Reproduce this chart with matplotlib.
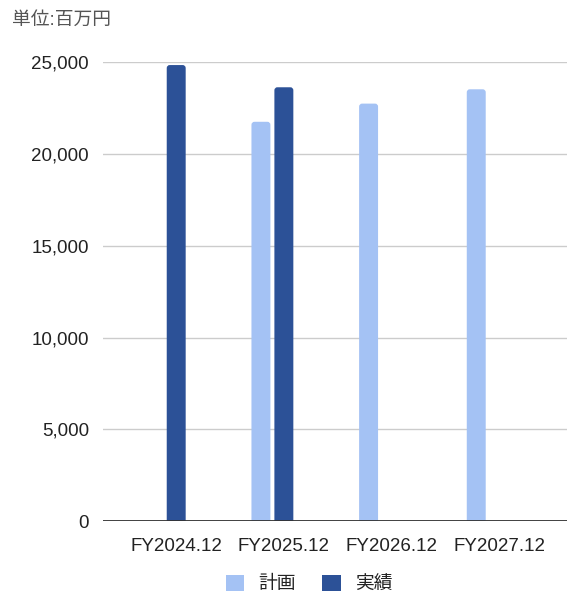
import numpy as np
import matplotlib
matplotlib.use('Agg')
import matplotlib.pyplot as plt
from matplotlib.patches import Patch, FancyBboxPatch
from matplotlib.ticker import FuncFormatter

plt.rcParams['font.family'] = ['Liberation Sans', 'Noto Sans CJK JP']

categories = ['FY2024.12', 'FY2025.12', 'FY2026.12', 'FY2027.12']
plan = [np.nan, 21760, 22750, 23530]     # 計画
actual = [24850, 23640, np.nan, np.nan]  # 実績

c_plan = '#a4c2f4'
c_actual = '#2c5197'

fig = plt.figure(figsize=(5.68, 5.95), dpi=100)
ax = fig.add_axes([103/568, 73.7/595, 464/568, 459/595])

x = np.arange(len(categories))
w = 0.176
b1 = ax.bar(x - 0.213, plan, width=w, color=c_plan, zorder=3)
b2 = ax.bar(x, actual, width=w, color=c_actual, zorder=3)

ax.set_xlim(-0.68, 3.63)
ax.set_ylim(0, 25000)

# swap plain rectangles for ones with slightly rounded tops
rx = 0.028
aspect = 165 / rx
for bars in (b1, b2):
    for r in bars:
        h = r.get_height()
        if np.isnan(h):
            continue
        r.set_visible(False)
        p = FancyBboxPatch((r.get_x(), -500), r.get_width(), h + 500,
                           boxstyle=f'round,pad=0,rounding_size={rx}',
                           mutation_aspect=aspect, facecolor=r.get_facecolor(),
                           edgecolor='none', zorder=3)
        p.set_clip_path(ax.patch)
        ax.add_patch(p)

ax.set_yticks(np.arange(0, 25001, 5000))
ax.yaxis.set_major_formatter(FuncFormatter(lambda v, p: f'{int(v):,}'))
ax.set_xticks(x)
ax.set_xticklabels(categories)

ax.grid(axis='y', color='#cccccc', linewidth=1, zorder=0)
ax.axhline(0, color='#333333', linewidth=1.3, zorder=4)
for s in ax.spines.values():
    s.set_visible(False)
ax.tick_params(axis='y', length=0, pad=10, labelsize=13.5, labelcolor='#222222')
ax.tick_params(axis='x', length=0, pad=12, labelsize=13.5, labelcolor='#222222')

fig.text(12/568, 1 - 20/595, '単位:百万円', fontsize=13.5, color='#555555',
         va='center', ha='left')

handles = [Patch(facecolor=c_plan, label='計画'), Patch(facecolor=c_actual, label='実績')]
fig.legend(handles=handles, loc='center', bbox_to_anchor=(309/568, 11/595), ncol=2,
           frameon=False, fontsize=13.5, handlelength=1.0, handleheight=1.0,
           handletextpad=0.75, columnspacing=1.4, labelcolor='#222222')

fig.savefig('out.png', dpi=100)
